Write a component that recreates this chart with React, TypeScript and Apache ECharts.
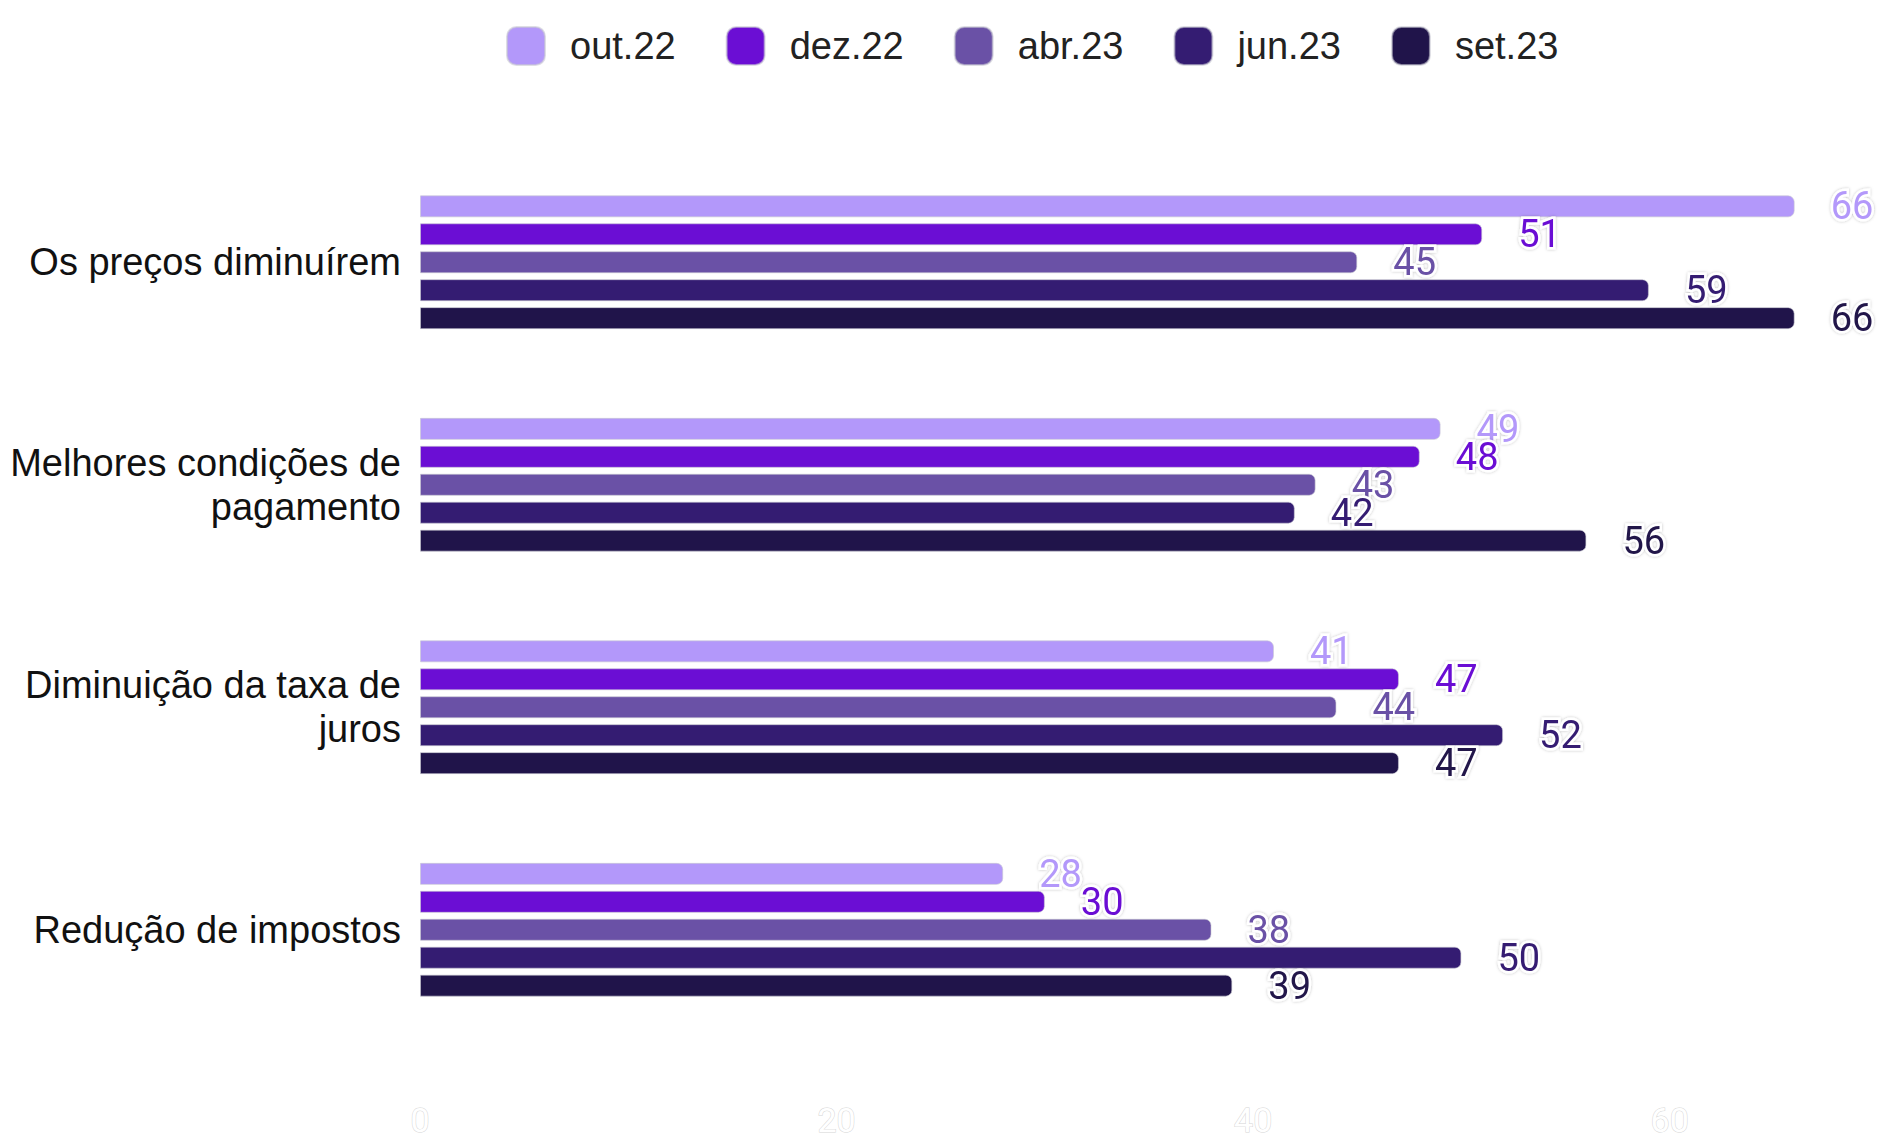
import React, { useEffect, useRef } from "react";
import * as echarts from "echarts";

const categories = [
  "Os preços diminuírem",
  "Melhores condições de\npagamento",
  "Diminuição da taxa de\njuros",
  "Redução de impostos",
];

const seriesNames = ["out.22", "dez.22", "abr.23", "jun.23", "set.23"];
const out22 = [66, 49, 41, 28];
const dez22 = [51, 48, 47, 30];
const abr23 = [45, 43, 44, 38];
const jun23 = [59, 42, 52, 50];
const set23 = [66, 56, 47, 39];
const seriesValues = [out22, dez22, abr23, jun23, set23];
const colors = ["#b398fa", "#6b0ed4", "#6a51a6", "#341c72", "#20144a"];

export default function App() {
  const ref = useRef<HTMLDivElement>(null);
  useEffect(() => {
    document.body.style.margin = "0";
    const chart = echarts.init(ref.current!, null, { renderer: "svg" });
    chart.setOption({
      animation: false,
      color: colors,
      legend: {
        top: 21,
        left: 501,
        icon: "roundRect",
        itemWidth: 38,
        itemHeight: 38,
        itemGap: 50,
        textStyle: {
          fontFamily: "Liberation Sans, Arial, sans-serif",
          fontSize: 38,
          color: "#222",
          padding: [0, 0, 0, 20],
        },
        data: seriesNames,
      },
      grid: { left: 420, right: 15, top: 151, height: 890 },
      xAxis: {
        type: "value",
        min: 0,
        max: 70,
        interval: 20,
        splitLine: { show: false },
        axisLine: { show: false },
        axisTick: { show: false },
        axisLabel: {
          showMaxLabel: false,
          margin: 62,
          fontFamily: "Roboto, sans-serif",
          fontSize: 34,
          color: "#ffffff",
          textBorderColor: "#d6d6d6",
          textBorderWidth: 1,
        },
      },
      yAxis: {
        type: "category",
        inverse: true,
        data: categories,
        axisLine: { show: false },
        axisTick: { show: false },
        axisLabel: {
          margin: 19,
          fontFamily: "Liberation Sans, Arial, sans-serif",
          fontSize: 38,
          lineHeight: 44,
          color: "#111",
          align: "right",
        },
      },
      series: seriesNames.map((name, i) => ({
        name,
        type: "bar",
        data: seriesValues[i],
        barWidth: 22,
        barGap: "27%",
        itemStyle: {
          color: colors[i],
          borderRadius: [0, 6, 6, 0],
          borderColor: "rgba(200,200,210,0.6)",
          borderWidth: 1,
        },
        label: {
          show: true,
          position: "right",
          distance: 36,
          fontFamily: "Roboto, sans-serif",
          fontSize: 38,
          color: colors[i],
          textBorderColor: "#ffffff",
          textBorderWidth: 5,
          textShadowColor: "rgba(0,0,0,0.25)",
          textShadowBlur: 3,
        },
      })),
    });
    return () => chart.dispose();
  }, []);
  return <div ref={ref} style={{ width: 1893, height: 1139 }} />;
}
